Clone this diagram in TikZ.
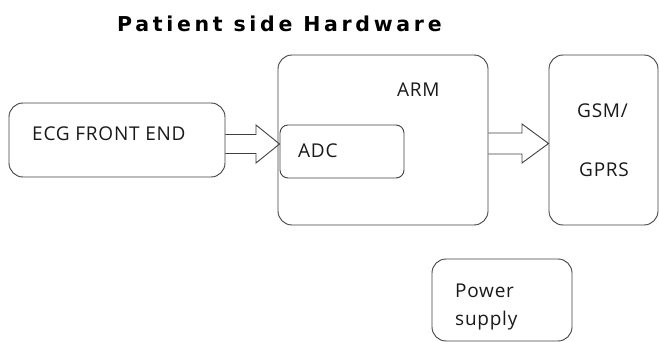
\documentclass[tikz,border=0pt]{standalone}
\usepackage{fontspec}
\setmainfont{Open Sans}
\newfontfamily\titlefont[LetterSpace=18]{DejaVu Sans}
\newfontfamily\lblfont[LetterSpace=4]{Open Sans}
\begin{document}
\begin{tikzpicture}[x=1pt,y=-1pt,
  box/.style={draw=black!75,line width=0.9pt,rounded corners=#1,inner sep=0pt},
  box/.default=14pt,
  lbl/.style={anchor=base west,inner sep=0pt,font=\lblfont\fontsize{19}{22}\selectfont,text=black!90},
  blockarrow/.style={draw=black!75,line width=0.9pt,line join=miter}]
\useasboundingbox (0,0) rectangle (659,342);
\node[font=\titlefont\bfseries\fontsize{20.5}{24}\selectfont,inner sep=0pt,anchor=base west] (title) at (117,32) {Patient side Hardware};
% boxes
\node[box,minimum width=216pt,minimum height=74pt] (ecgb) at (117,140) {};
\node[box,minimum width=210pt,minimum height=170pt] (arm) at (383,140) {};
\node[box=8pt,minimum width=124pt,minimum height=53pt] (adc) at (342,151.5) {};
\node[box,minimum width=109pt,minimum height=170pt] (gsm) at (603.5,140) {};
\node[box,minimum width=140pt,minimum height=82pt] (pwr) at (502,300) {};
% labels
\node[lbl] (tecg) at (32,141) {ECG FRONT END};
\node[lbl] (tarm) at (397,97) {ARM};
\node[lbl] (tadc) at (298,158) {ADC};
\node[lbl] (tgsm) at (577,118) {GSM/};
\node[lbl] (tgprs) at (579,177) {GPRS};
\node[lbl] (tpow) at (455,297) {Power};
\node[lbl] (tsup) at (455,325) {supply};
% block arrows
\draw[blockarrow] (ecgb.east |- 0,134.5) -- (256,134.5) -- (256,125) -- (adc.west |- 0,144) -- (256,163) -- (256,153.5) -- (ecgb.east |- 0,153.5);
\draw[blockarrow] (arm.east |- 0,133) -- (522,133) -- (522,124) -- (gsm.west |- 0,143.5) -- (522,163) -- (522,154) -- (arm.east |- 0,154);
\end{tikzpicture}
\end{document}
